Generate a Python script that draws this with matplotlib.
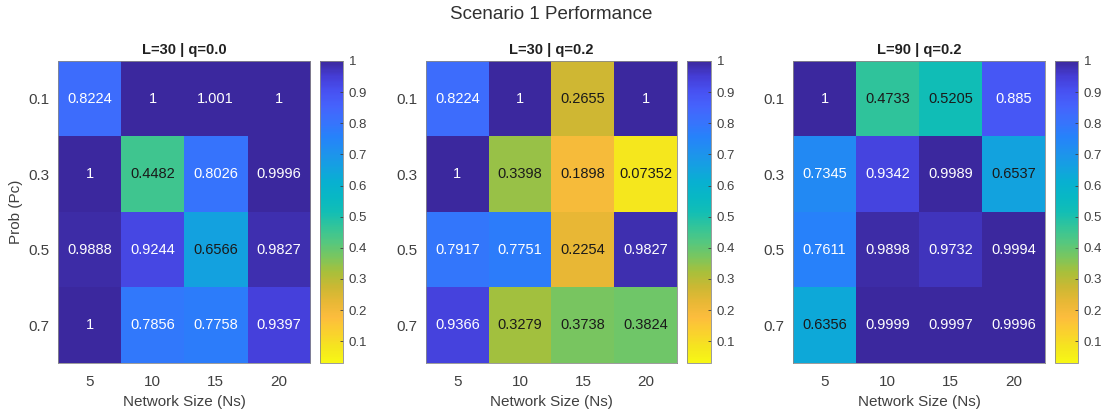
import numpy as np
import matplotlib
matplotlib.use("Agg")
import matplotlib.pyplot as plt
from matplotlib.colors import LinearSegmentedColormap

plt.rcParams["font.family"] = ["Liberation Sans", "DejaVu Sans"]
plt.rcParams["font.size"] = 10

# 資料
network_size = ["5", "10", "15", "20"]
prob_pc = ["0.1", "0.3", "0.5", "0.7"]
panel_titles = ["L=30 | q=0.0", "L=30 | q=0.2", "L=90 | q=0.2"]

perf_l30_q00 = [
    [0.8224, 1, 1.001, 1],
    [1, 0.4482, 0.8026, 0.9996],
    [0.9888, 0.9244, 0.6566, 0.9827],
    [1, 0.7856, 0.7758, 0.9397],
]
perf_l30_q02 = [
    [0.8224, 1, 0.2655, 1],
    [1, 0.3398, 0.1898, 0.07352],
    [0.7917, 0.7751, 0.2254, 0.9827],
    [0.9366, 0.3279, 0.3738, 0.3824],
]
perf_l90_q02 = [
    [1, 0.4733, 0.5205, 0.885],
    [0.7345, 0.9342, 0.9989, 0.6537],
    [0.7611, 0.9898, 0.9732, 0.9994],
    [0.6356, 0.9999, 0.9997, 0.9996],
]
all_data = [perf_l30_q00, perf_l30_q02, perf_l90_q02]

# parula (深藍 -> 黃), 之後反轉
parula_pts = [
    (0.235, 0.160, 0.620),
    (0.270, 0.240, 0.840),
    (0.280, 0.320, 0.950),
    (0.270, 0.390, 0.990),
    (0.220, 0.450, 0.990),
    (0.150, 0.510, 0.980),
    (0.120, 0.570, 0.930),
    (0.080, 0.630, 0.880),
    (0.030, 0.690, 0.820),
    (0.030, 0.720, 0.770),
    (0.070, 0.745, 0.710),
    (0.200, 0.770, 0.600),
    (0.330, 0.780, 0.500),
    (0.480, 0.775, 0.370),
    (0.660, 0.750, 0.230),
    (0.800, 0.720, 0.200),
    (0.910, 0.720, 0.210),
    (0.990, 0.740, 0.240),
    (0.980, 0.820, 0.180),
    (0.960, 0.900, 0.120),
    (0.970, 0.970, 0.080),
]
cmap = LinearSegmentedColormap.from_list("parula_r", parula_pts[::-1])
vmin, vmax = 0.03, 1.0

W, H = 1103, 412
fig = plt.figure(figsize=(W / 100, H / 100), dpi=100)

ax_left = [58, 426, 793]
ax_width = [252, 251, 252]
cb_left = [320, 687, 1055]
cb_width = [23, 24, 23]
top, bottom = 61, 363

for k, data in enumerate(all_data):
    arr = np.array(data)
    ax = fig.add_axes([ax_left[k] / W, 1 - bottom / H, ax_width[k] / W, (bottom - top) / H])
    im = ax.imshow(arr, cmap=cmap, vmin=vmin, vmax=vmax, aspect="auto")
    for i in range(arr.shape[0]):
        for j in range(arr.shape[1]):
            v = arr[i, j]
            txt_color = "#1a1a1a" if v < 0.7 else "white"
            ax.text(j, i, "%.4g" % v, ha="center", va="center", color=txt_color, fontsize=10.5)
    ax.set_xticks(range(len(network_size)))
    ax.set_xticklabels(network_size)
    ax.set_yticks(range(len(prob_pc)))
    ax.set_yticklabels(prob_pc)
    ax.tick_params(length=0, colors="#404040", labelsize=11)
    ax.tick_params(axis="x", pad=9)
    ax.tick_params(axis="y", pad=6)
    for s in ax.spines.values():
        s.set_color("#8a8a8a")
        s.set_linewidth(0.6)
    ax.set_xlabel("Network Size (Ns)", color="#404040", fontsize=11, labelpad=4)
    if k == 0:
        ax.set_ylabel("Prob (Pc)", color="#404040", fontsize=11, labelpad=4)
    ax.set_title(panel_titles[k], fontweight="bold", fontsize=10.5, color="#202020", pad=5)

    cax = fig.add_axes([cb_left[k] / W, 1 - bottom / H, cb_width[k] / W, (bottom - top) / H])
    cb = fig.colorbar(im, cax=cax)
    cb.set_ticks([0.1, 0.2, 0.3, 0.4, 0.5, 0.6, 0.7, 0.8, 0.9, 1.0])
    cb.set_ticklabels(["0.1", "0.2", "0.3", "0.4", "0.5", "0.6", "0.7", "0.8", "0.9", "1"])
    cb.ax.tick_params(length=2.5, width=0.6, direction="in", pad=4, colors="#404040", labelsize=9.5)
    cb.outline.set_edgecolor("#8a8a8a")
    cb.outline.set_linewidth(0.6)

fig.suptitle("Scenario 1 Performance", x=0.5, y=0.985, fontsize=13.5, color="#303030")

fig.savefig("out.png", dpi=100)
